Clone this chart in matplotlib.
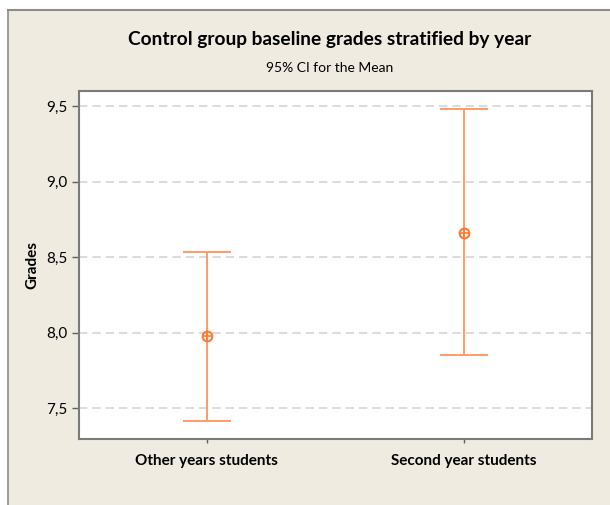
import matplotlib.pyplot as plt
from matplotlib.patches import Rectangle
from matplotlib.lines import Line2D

plt.rcParams['font.family'] = ['Lato', 'DejaVu Sans']

groups = ["Other years students", "Second year students"]
means = [7.977, 8.659]
lower = [7.414, 7.851]
upper = [8.533, 9.481]
yticks = [7.5, 8.0, 8.5, 9.0, 9.5]
ytick_labels = ["7,5", "8,0", "8,5", "9,0", "9,5"]

W, H = 610, 505
fig = plt.figure(figsize=(W / 100, H / 100), dpi=100)
fig.patch.set_facecolor('white')

# beige panel with grey frame on top/left
fig.patches.append(Rectangle((8 / W, 0), 1 - 8 / W, 1 - 10 / H, transform=fig.transFigure,
                             facecolor='#EFEBE1', edgecolor='none', zorder=-10))
fig.lines.append(Line2D([8 / W, 8 / W], [0, 1 - 10 / H], transform=fig.transFigure,
                        color='#8C8C8C', lw=1.2))
fig.lines.append(Line2D([8 / W, 1], [1 - 10 / H, 1 - 10 / H], transform=fig.transFigure,
                        color='#8C8C8C', lw=1.5))

ax = fig.add_axes([78.5 / W, 1 - 439 / H, (592 - 78.5) / W, (439 - 91) / H])
ax.set_facecolor('white')

x = list(range(len(groups)))
err_lo = [m - l for m, l in zip(means, lower)]
err_hi = [u - m for m, u in zip(means, upper)]
ax.errorbar(x, means, yerr=[err_lo, err_hi], fmt='none', ecolor='#FF9C66',
            elinewidth=1.4, capsize=17.5, capthick=1.4, zorder=3)
ax.plot(x, means, 'o', ms=7, mfc='none', mec='#FF7A30', mew=1.5, zorder=4)
ax.plot(x, means, '+', ms=7, mec='#FF7A30', mew=1.2, zorder=4)

ax.set_xlim(-0.5, 1.5)
ax.set_ylim(7.295, 9.6)
ax.set_yticks(yticks)
ax.set_yticklabels(ytick_labels, fontsize=11)
ax.set_xticks(x)
ax.set_xticklabels(groups, fontsize=11, fontweight='bold')
ax.yaxis.grid(True, color='#D6D6D6', ls=(0, (5, 3)), lw=1.2)
ax.set_axisbelow(True)
ax.tick_params(axis='y', length=5, width=1, color='#606060', pad=3)
ax.tick_params(axis='x', length=3, width=1, color='#606060', pad=8)
for s in ax.spines.values():
    s.set_color('#7A7A7A')
    s.set_linewidth(1.5)

ax.set_ylabel('Grades', fontsize=11, fontweight='bold', labelpad=5)

fig.text(330 / W, 1 - 40 / H, 'Control group baseline grades stratified by year',
         ha='center', va='center', fontsize=13.8, fontweight='bold')
fig.text(330 / W, 1 - 68 / H, '95% CI for the Mean', ha='center', va='center', fontsize=10)

fig.savefig('out.png', dpi=100)
